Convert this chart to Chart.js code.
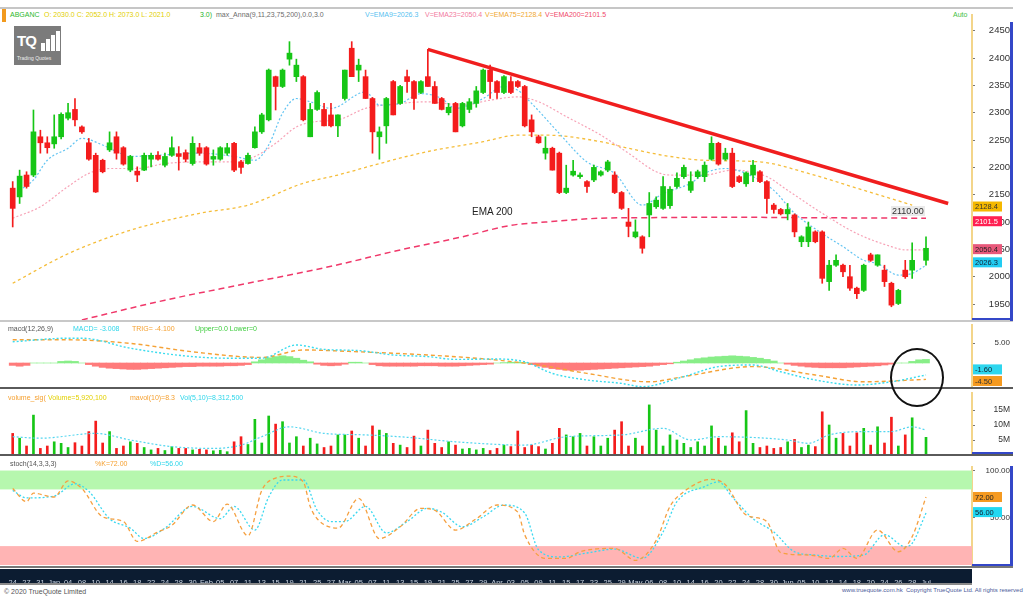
<!DOCTYPE html>
<html lang="en">
<head>
<meta charset="UTF-8">
<title>ABGANC - Daily</title>
<script src="https://cdn.jsdelivr.net/npm/chart.js"></script>
<style>
    body { margin: 0; background: #fff; font-family: "Liberation Sans", Arial, sans-serif; }
    #stage { position: relative; width: 1024px; height: 606px; overflow: hidden; background: #fff; }
    #stage canvas { position: absolute; left: 0; }
    .a { position: absolute; white-space: nowrap; }
    .legend { font-size: 7px; line-height: 8px; }
    .rule { position: absolute; left: 0; width: 1013px; }
    .logo { left: 14px; top: 26px; width: 47px; height: 39px; background: #7b7b7b; }
    .logo .tq { position: absolute; left: 3px; top: 6px; color: #fff; font-weight: bold; font-size: 15px; letter-spacing: -1px; }
    .logo .bar { position: absolute; background: #fff; width: 4px; }
    .logo .sub { position: absolute; left: 3px; top: 29px; color: #eee; font-size: 5px; }
</style>
</head>
<body>
<div id="stage">
    <!-- header -->
    <div class="rule" style="top:7px;height:2px;background:#c6c6c6"></div>
    <div class="a" style="left:2px;top:9px;width:4px;height:13px;background:#f29a1e"></div>
    <div class="a legend" style="top:11px;left:10px;color:#2db82d">ABGANC</div>
    <div class="a legend" style="top:11px;left:44px;color:#e2cf00">O: 2030.0 C: 2052.0 H: 2073.0 L: 2021.0</div>
    <div class="a legend" style="top:11px;left:200px;color:#1fb51f">3.0)</div>
    <div class="a legend" style="top:11px;left:216px;color:#6b6b6b">max_Anna(9,11,23,75,200),0.0,3.0</div>
    <div class="a legend" style="top:11px;left:365px;color:#57bff0">V=EMA9=2026.3</div>
    <div class="a legend" style="top:11px;left:425px;color:#f27aa0">V=EMA23=2050.4</div>
    <div class="a legend" style="top:11px;left:485px;color:#f0a830">V=EMA75=2128.4</div>
    <div class="a legend" style="top:11px;left:545px;color:#f04a6a">V=EMA200=2101.5</div>
    <div class="a legend" style="top:11px;left:953px;color:#44c044">Auto</div>

    <canvas id="priceChart" width="1010" height="306" style="top:14px"></canvas>
    <canvas id="macdChart" width="1010" height="64" style="top:324px"></canvas>
    <canvas id="volChart" width="1010" height="63" style="top:392px"></canvas>
    <div class="a" style="left:0;top:569px;width:972px;height:14px;background:#0c1c31"></div>
    <canvas id="stochChart" width="1010" height="117" style="top:466px"></canvas>

    <!-- logo -->
    <div class="a logo">
        <span class="tq">TQ</span>
        <span class="bar" style="left:27px;top:17px;height:8px"></span>
        <span class="bar" style="left:32px;top:13px;height:12px"></span>
        <span class="bar" style="left:37px;top:9px;height:16px"></span>
        <span class="bar" style="left:42px;top:5px;height:20px"></span>
        <span class="sub">Trading Quotes</span>
    </div>

    <!-- annotations on the price panel -->
    <div class="a" style="left:472px;top:206px;font-size:10px;color:#222">EMA 200</div>
    <div class="a" style="left:891px;top:206px;font-size:9px;color:#333;background:rgba(225,225,225,0.7);padding:0 1px">2110.00</div>

    <!-- sub-panel legends -->
    <div class="a legend" style="top:325px;left:8px;color:#555">macd(12,26,9)</div>
    <div class="a legend" style="top:325px;left:73px;color:#2ed6ea">MACD= -3.008</div>
    <div class="a legend" style="top:325px;left:132px;color:#f5a030">TRIG= -4.100</div>
    <div class="a legend" style="top:325px;left:195px;color:#3ccc3c">Upper=0.0 Lower=0</div>

    <div class="a legend" style="top:394px;left:8px;color:#f5a030">volume_sig(</div>
    <div class="a legend" style="top:394px;left:48px;color:#e2d000">Volume=5,920,100</div>
    <div class="a legend" style="top:394px;left:130px;color:#f5a030">mavol(10)=8.3</div>
    <div class="a legend" style="top:394px;left:180px;color:#2ed6ea">Vol(5,10)=8,312,500</div>

    <div class="a legend" style="top:460px;left:10px;color:#555">stoch(14,3,3,3)</div>
    <div class="a legend" style="top:460px;left:95px;color:#f5a030">%K=72.00</div>
    <div class="a legend" style="top:460px;left:150px;color:#2ed6ea">%D=56.00</div>

    <!-- panel separators and axis frames -->
    <div class="rule" style="top:320px;height:2px;background:#c8c8c8"></div>
    <div class="rule" style="top:387px;height:2px;background:#5a5a5a"></div>
    <div class="rule" style="top:454px;height:2px;background:#5a5a5a"></div>
    <div class="rule" style="top:566px;height:2px;background:#777"></div>
    <div class="rule" style="top:583px;height:2px;background:#8a8a8a;width:972px"></div>
    <div class="a" style="left:1010px;top:22px;width:3px;height:299px;background:#3447c8"></div>
    <div class="a" style="left:972px;top:318px;width:41px;height:2px;background:#3447c8"></div>
    <div class="a" style="left:972px;top:452px;width:41px;height:2px;background:#3447c8"></div>
    <div class="a" style="left:1010px;top:466px;width:3px;height:100px;background:#3447c8"></div>
    <div class="a" style="left:972px;top:564px;width:41px;height:2px;background:#3447c8"></div>

    <!-- circled area -->
    <div class="a" style="left:890px;top:348px;width:50px;height:55px;border:2px solid #111;border-radius:50%"></div>

    <!-- footer -->
    <div class="a" style="left:4px;top:588px;font-size:7px;color:#555">&copy; 2020 TrueQuote Limited</div>
    <div class="a" style="left:842px;top:587px;font-size:6px;color:#4a5a9a">www.truequote.com.hk &nbsp;Copyright TrueQuote Ltd. All rights reserved</div>
</div>

<script>
    // ---- candles (one per session, null = no bar) ----
    const candleOpen = [2162,2146,2186,2186,2256,2245,2243,2256,2290,2306,
        2274,2245,2222,2213,2232,2256,2236,2195,2193,2195,
        2215,2222,2204,2222,2225,2227,2207,2236,2236,2215,
        2215,2226,2244,2210,2207,2236,2265,2287,2366,2348,
        2398,2366,2366,2256,2306,2306,2296,2276,2326,2418,
        2378,2366,2326,2256,2276,2357,2317,2366,2357,2337,
        2366,2348,2326,2300,2317,2276,2306,2317,2337,2378,
        2357,2337,2357,2357,2348,2287,2256,2226,2235,2226,
        2154,2186,2183,2174,2177,2186,2195,2186,2154,2100,
        2073,2073,2113,2128,2125,2130,2165,2183,2158,2183,
        2183,2215,2244,2215,2226,2183,2170,2186,2192,2174,
        2131,2123,2115,2113,2064,2064,2082,2082,1991,2021,
        2021,2000,1979,1975,2040,2021,2012,1988,1951,2012,
        2012,null,2030];
    const candleHigh = [2174,2195,2192,2305,2268,2256,2296,2300,2317,2326,
        2276,2253,2226,2215,2265,2265,2238,2222,2201,2226,
        2226,2229,2226,2256,2238,2232,2256,2244,2238,2232,
        2238,2244,2246,2213,2226,2274,2299,2380,2367,2380,
        2430,2398,2368,2317,2340,2317,2317,2296,2378,2430,
        2398,2378,2328,2274,2328,2359,2350,2378,2359,2359,
        2416,2357,2328,2317,2319,2319,2326,2348,2380,2387,
        2359,2368,2366,2359,2350,2296,2259,2256,2237,2228,
        2204,2213,2190,2176,2204,2194,2213,2192,2156,2125,
        2104,2075,2154,2146,2183,2165,2190,2204,2192,2195,
        2210,2256,2246,2235,2235,2185,2192,2213,2194,2176,
        2134,2125,2134,2115,2075,2100,2084,2084,2030,2040,
        2023,2021,1981,2023,2043,2040,2021,1990,1977,2030,
        2062,null,2073];
    const candleLow = [2091,2134,2162,2183,2226,2226,2235,2252,2287,2276,
        2262,2213,2154,2190,2229,2215,2204,2192,2174,2194,
        2201,2213,2201,2220,2195,2210,2204,2222,2204,2204,
        2213,2222,2192,2189,2206,2235,2262,2285,2305,2346,
        2387,2357,2285,2256,2304,2276,2274,2256,2323,2366,
        2357,2326,2226,2215,2244,2296,2315,2337,2306,2335,
        2348,2317,2305,2296,2265,2274,2300,2310,2335,2326,
        2326,2335,2335,2346,2274,2256,2244,2215,2195,2152,
        2152,2184,2180,2154,2174,2184,2192,2152,2123,2073,
        2071,2043,2073,2125,2123,2125,2162,2180,2154,2180,
        2174,2213,2204,2213,2163,2172,2165,2174,2172,2116,
        2116,2113,2104,2073,2055,2055,2062,1988,1975,2019,
        2000,1975,1960,1973,2028,2019,1982,1945,1949,1997,
        1997,null,2021];
    const candleClose = [2125,2184,2165,2265,2245,2236,2256,2297,2300,2287,
        2265,2215,2155,2192,2245,2226,2206,2220,2186,2222,
        2222,2215,2220,2236,2220,2215,2244,2226,2206,2220,
        2236,2236,2195,2200,2222,2265,2296,2378,2348,2378,
        2409,2387,2287,2306,2337,2276,2276,2296,2378,2366,
        2387,2326,2265,2265,2326,2296,2348,2357,2326,2357,
        2348,2317,2306,2310,2265,2317,2320,2340,2378,2357,
        2337,2366,2337,2348,2276,2265,2245,2235,2195,2154,
        2162,2193,2186,2165,2200,2192,2210,2154,2125,2092,
        2082,2052,2134,2140,2165,2160,2180,2200,2174,2192,
        2204,2244,2206,2226,2165,2174,2190,2204,2174,2143,
        2123,2115,2123,2082,2073,2091,2064,1997,2021,2030,
        2009,1979,1969,2021,2030,2040,1991,1948,1975,2000,
        2030,null,2052];

    // ---- moving averages (read at session index) ----
    const ema9Idx = [1,3,5,8,10,13,15,17,22,27,32,35,37,39,41,43,46,51,53,56,59,62,64,66,68,71,73,75,79,83,87,91,94,98,100,103,107,110,113,117,120,123,125,128,130,132];
    const ema9Val = [2158,2177,2213,2235,2253,2241,2229,2220,2223,2226,2220,2213,2241,2299,2326,2320,2308,2338,2314,2317,2335,2326,2308,2314,2326,2348,2341,2317,2262,2210,2189,2131,2152,2171,2189,2198,2183,2158,2116,2079,2055,2030,2024,2003,2006,2021];
    const ema23Idx = [0,4,8,11,14,18,22,27,32,35,38,41,44,47,51,56,60,65,69,73,76,80,85,89,93,95,100,104,109,112,117,122,127,129,132];
    const ema23Val = [2107,2128,2165,2189,2198,2198,2207,2210,2210,2220,2244,2274,2284,2287,2308,2317,2320,2314,2323,2329,2320,2293,2259,2226,2192,2186,2186,2195,2183,2158,2116,2079,2055,2049,2049];
    const ema75Idx = [0,8,17,27,34,42,47,53,60,68,73,77,85,89,95,100,108,115,122,130];
    const ema75Val = [1988,2042,2085,2116,2131,2171,2186,2207,2229,2247,2259,2259,2247,2235,2220,2213,2210,2189,2162,2131];
    const ema200Idx = [10,22,34,46,56,65,72,77,85,92,102,114,132];
    const ema200Val = [1921,1957,1988,2019,2049,2073,2094,2100,2107,2108,2109,2108,2107];
    const trendIdx = [60, 135.2];
    const trendVal = [2416, 2134];
    const priceTicks = [1950,2000,2050,2100,2150,2200,2250,2300,2350,2400,2450];
    const priceTagValues = [2128.4, 2101.5, 2050.4, 2026.3];

    // ---- MACD ----
    const macdIdx = [0,8,10,17,25,31,36,41,45,50,55,60,64,70,74,78,83,88,91,97,102,107,111,116,122,127,132];
    const macdVal = [5.3,6.2,6.2,3.7,1.75,1.2,1.2,4.5,3.4,3.1,2.0,1.6,0.9,1.0,0.3,-2.6,-4.25,-5.1,-5.9,-3.4,-0.9,-0.5,-2.2,-4.25,-5.5,-4.7,-3.0];
    const signalIdx = [0,8,17,26,36,42,50,60,69,76,83,92,97,107,116,123,132];
    const signalVal = [5.8,5.8,4.9,2.8,1.4,3.25,2.8,2.0,0.9,-0.5,-2.6,-4.7,-3.4,-0.9,-3.0,-4.7,-4.1];
    const macdHist = [-0.6,-0.8,-0.6,0,0,0,0,0.4,0.5,0.4,
        0,-0.4,-0.8,-1.1,-1.3,-1.4,-1.5,-1.6,-1.6,-1.5,
        -1.4,-1.3,-1.2,-1.1,-1.0,-0.9,-0.9,-0.8,-0.8,-0.8,
        -0.8,-0.7,-0.7,-0.6,-0.4,0.3,0.8,1.3,1.6,1.8,
        1.6,1.2,0.7,0.3,-0.3,-0.6,-0.7,-0.6,-0.3,0.2,
        0.2,0,-0.4,-0.7,-0.8,-0.8,-0.8,-0.8,-0.8,-0.7,
        -0.7,-0.7,-0.8,-0.8,-0.8,-0.7,-0.6,-0.5,-0.4,-0.3,
        0,0.1,0.2,0.2,0.1,-0.4,-0.8,-1.1,-1.4,-1.6,
        -1.8,-1.8,-1.8,-1.7,-1.6,-1.5,-1.4,-1.3,-1.2,-1.1,
        -1.0,-0.9,-0.8,-0.6,-0.4,-0.2,0.2,0.5,0.8,1.1,
        1.3,1.5,1.6,1.7,1.8,1.7,1.6,1.4,1.2,0.9,
        0.5,0,-0.3,-0.6,-0.8,-1.0,-1.1,-1.2,-1.2,-1.2,
        -1.2,-1.1,-1.0,-0.9,-0.8,-0.7,-0.5,-0.3,0,0,
        0.4,0.8,0.9];
    const macdTicks = [5];
    const macdTagValues = [-1.6, -4.5];

    // ---- volume (millions) ----
    const volume = [7.2,5.6,3.0,13.3,2.2,3.0,4.4,3.9,2.5,4.1,
        3.0,7.8,11.3,4.0,7.8,2.2,3.0,4.4,3.9,2.5,
        1.7,2.2,1.5,2.8,2.2,2.2,1.7,1.9,1.7,1.4,
        1.6,1.1,4.4,6.1,3.5,11.9,4.0,13.0,10.3,11.1,
        4.0,6.1,3.0,5.6,3.7,2.5,3.0,6.7,6.7,8.0,
        5.6,3.0,9.7,8.3,7.2,3.9,3.3,2.5,6.3,3.0,
        8.3,3.9,2.5,4.4,3.3,2.0,2.2,1.7,2.2,1.5,
        2.2,3.3,2.8,8.0,2.5,3.3,2.8,2.0,3.9,8.9,
        6.7,6.1,7.2,3.0,6.1,3.0,5.6,8.3,11.1,3.0,
        5.6,3.0,16.7,8.3,3.0,6.7,5.0,3.9,2.5,4.4,
        3.0,9.7,5.6,3.0,7.4,4.4,14.8,3.9,2.5,3.0,
        2.2,2.5,4.4,5.2,2.5,3.3,2.8,14.4,10.0,5.6,
        7.2,3.0,7.4,8.9,3.3,9.4,4.0,12.6,3.0,6.7,
        12.4,null,5.9];
    const volMaIdx = [0,4,12,17,23,29,33,36,40,45,51,57,64,74,80,88,94,98,102,112,115,118,123,127,130,132];
    const volMaVal = [6.1,5.6,7.2,5.0,2.8,2.2,3.3,6.1,9.4,7.2,6.7,5.9,4.4,3.3,6.1,6.7,8.9,5.0,6.1,5.0,3.9,6.7,7.8,7.8,9.4,8.3];
    const volTicks = [5, 10, 15];

    // ---- stochastic ----
    const stochKIdx = [0,2,3,6,8,10,13,16,18,21,23,26,29,31,34,36,38,40,42,43,44,47,50,53,56,59,61,64,67,70,73,74,77,80,82,87,90,93,95,97,101,103,106,109,111,115,118,120,122,125,128,130,132];
    const stochK = [81,67,76,72,89,81,51,46,25,35,42,63.5,46,64.5,31,79,92,94,88,62,49,39,70.5,28,40.5,60,58,37,49,63.5,56,32,7,7,14,17.6,5,26,62,77.6,90.7,85,53,46,13,10.6,7,17.6,7,37,14,30,72];
    const stochDIdx = [0,2,6,9,11,14,17,19,22,26,30,32,35,37,39,42,44,46,48,51,54,57,60,62,65,68,71,74,76,79,83,87,91,94,96,100,102,104,107,110,113,116,119,123,126,129,130,132];
    const stochD = [79,71,73,86,78,49,39,28,39,62,49,62,37,72,90,90,58,46,46,62,34,46,60,56,40.5,51,63.5,55,16,8.5,12.7,16.8,7,35,67,83,88,72,49,35,14,10.6,9,10.6,32,19.4,23,55];
    const stochTicks = [50, 100];
    const stochTagValues = [72, 56];

    // ---- date axis ----
    const dateIdx = [0,2,4,6,8,10,12,14,16,18,20,22,24,26,28,30,32,34,36,38,40,42,44,46,48,50,52,54,56,58,60,62,64,66,68,70,72,74,76,78,80,82,84,86,88,90,92,94,96,98,100,102,104,106,108,110,112,114,116,118,120,122,124,126,128,130,132];
    const dateLabels = ['24','27','31','Jan','04','08','10','14','16','18',
        '22','24','28','30','Feb','05','07','11','13','15',
        '19','21','25','27','Mar','05','07','11','13','15',
        '19','21','25','27','29','Apr','03','05','09','11',
        '15','17','23','25','29','May','06','08','10','14',
        '16','20','22','24','28','30','Jun','05','10','12',
        '14','18','20','24','26','28','Jul'];

    // ---- layout constants ----
    const X_STEP = 6.919;   // pixels between sessions
    const X_FIRST = 12.7;   // pixel of the first session
    const PLOT_W = 972;
    const AXIS_W = 38;
    const X_MIN = -X_FIRST / X_STEP;
    const X_MAX = X_MIN + PLOT_W / X_STEP;

    const UP = '#16c616';
    const DOWN = '#f41c1c';
    const FONT = '"Liberation Sans", Arial, sans-serif';
    Chart.defaults.font.family = FONT;

    function pts(idx, vals) {
        return idx.map((x, k) => ({ x: x, y: vals[k] }));
    }

    function isUp(i) {
        return candleClose[i] >= candleOpen[i];
    }

    function lineSet(data, color, dash, width, order) {
        return {
            type: 'line', data: data, borderColor: color, borderDash: dash,
            borderWidth: width || 1.2, pointRadius: 0, fill: false,
            cubicInterpolationMode: 'monotone', order: order || 3
        };
    }

    function yAxis(min, max, ticks, fmt, fontSize) {
        return {
            position: 'right', min: min, max: max,
            afterFit: s => { s.width = AXIS_W; s.paddingTop = 0; s.paddingBottom = 0; },
            afterBuildTicks: s => { s.ticks = ticks.map(v => ({ value: v })); },
            border: { display: true, color: '#f3d58a', width: 2 },
            grid: { drawOnChartArea: false, tickLength: 3, color: '#777' },
            ticks: {
                callback: fmt, color: '#333', padding: 3, crossAlign: 'far',
                font: { size: fontSize || 9, family: FONT }
            }
        };
    }

    function xAxis(show) {
        if (!show) {
            return { type: 'linear', min: X_MIN, max: X_MAX, offset: false, display: false };
        }
        return {
            type: 'linear', min: X_MIN, max: X_MAX, offset: false, position: 'bottom',
            afterFit: s => { s.height = 18; s.paddingLeft = 0; s.paddingRight = 0; },
            afterBuildTicks: s => { s.ticks = dateIdx.map(v => ({ value: v })); },
            grid: { display: false },
            border: { display: false },
            ticks: {
                callback: (v, i) => dateLabels[i], color: '#c9d3e0', padding: 5,
                autoSkip: false, maxRotation: 0, font: { size: 7.5, family: FONT }
            }
        };
    }

    function baseOptions(y, showX) {
        return {
            responsive: false, animation: false,
            layout: { padding: 0 },
            plugins: { legend: { display: false }, tooltip: { enabled: false } },
            scales: { x: xAxis(showX), y: y }
        };
    }

    // value tags drawn in the right axis
    function tagPlugin(values, styles, digits) {
        return {
            id: 'valueTags',
            afterDraw(chart) {
                const { ctx, chartArea, scales } = chart;
                ctx.save();
                ctx.font = '7.5px ' + FONT;
                ctx.textBaseline = 'middle';
                values.forEach((v, k) => {
                    const y = scales.y.getPixelForValue(v);
                    ctx.fillStyle = styles[k][0];
                    ctx.fillRect(chartArea.right + 1, y - 5, 29, 10);
                    ctx.fillStyle = styles[k][1];
                    ctx.fillText(v.toFixed(digits), chartArea.right + 3, y + 0.5);
                });
                ctx.restore();
            }
        };
    }

    // ---- price panel ----
    const wickData = [];
    const bodyData = [];
    candleOpen.forEach((o, i) => {
        if (o === null) return;
        wickData.push({ x: i, y: [candleLow[i], candleHigh[i]] });
        bodyData.push({ x: i, y: [o, candleClose[i]] });
    });
    const candleColor = c => (c.raw && !isUp(c.raw.x)) ? DOWN : UP;

    new Chart(document.getElementById('priceChart'), {
        type: 'bar',
        data: {
            datasets: [
                lineSet(pts(trendIdx, trendVal), '#f01e1e', [], 3.5, 0),
                { data: bodyData, backgroundColor: candleColor, barThickness: 5, minBarLength: 1, grouped: false, order: 1 },
                { data: wickData, backgroundColor: candleColor, barThickness: 1, grouped: false, order: 2 },
                lineSet(pts(ema9Idx, ema9Val), '#62c4f2', [2, 2], 1.2),
                lineSet(pts(ema23Idx, ema23Val), '#f7a2b6', [2, 2], 1.2),
                lineSet(pts(ema75Idx, ema75Val), '#f5bd3a', [3, 3], 1.3),
                lineSet(pts(ema200Idx, ema200Val), '#f0386a', [6, 4], 1.5)
            ]
        },
        options: baseOptions(yAxis(1920.8, 2480.6, priceTicks, v => String(v), 9.5), false),
        plugins: [tagPlugin(priceTagValues,
            [['#f5b800', '#333'], ['#ff2052', '#fff'], ['#e8587a', '#222'], ['#22ccf2', '#123']], 1)]
    });

    // ---- MACD panel ----
    new Chart(document.getElementById('macdChart'), {
        type: 'bar',
        data: {
            datasets: [
                lineSet(pts(macdIdx, macdVal), '#3adcee', [2, 2], 1.4, 1),
                lineSet(pts(signalIdx, signalVal), '#f5a236', [4, 3], 1.4, 1),
                {
                    data: macdHist.map((v, i) => ({ x: i, y: v })),
                    backgroundColor: c => (c.raw && c.raw.y < 0) ? '#ff7b7b' : '#88ee88',
                    barThickness: 7, grouped: false, order: 2
                }
            ]
        },
        options: baseOptions(yAxis(-6.25, 9.75, macdTicks, v => v.toFixed(2), 8), false),
        plugins: [tagPlugin(macdTagValues, [['#2ed6ee', '#123'], ['#f59a20', '#333']], 2)]
    });

    // ---- volume panel ----
    const volData = [];
    volume.forEach((v, i) => { if (v !== null) volData.push({ x: i, y: v }); });

    new Chart(document.getElementById('volChart'), {
        type: 'bar',
        data: {
            datasets: [
                lineSet(pts(volMaIdx, volMaVal), '#52d6f0', [2, 2], 1.2, 1),
                { data: volData, backgroundColor: candleColor, barThickness: 2, grouped: false, order: 2 }
            ]
        },
        options: baseOptions(yAxis(0, 21, volTicks, v => v + 'M', 8.5), false)
    });

    // ---- stochastic panel ----
    const stochBands = {
        id: 'stochBands',
        beforeDatasetsDraw(chart) {
            const { ctx, chartArea, scales } = chart;
            const y = scales.y;
            ctx.save();
            ctx.fillStyle = '#b6f7ae';
            ctx.fillRect(chartArea.left, y.getPixelForValue(100), chartArea.width, y.getPixelForValue(80) - y.getPixelForValue(100));
            ctx.fillStyle = '#ffb4b4';
            ctx.fillRect(chartArea.left, y.getPixelForValue(20), chartArea.width, y.getPixelForValue(0) - y.getPixelForValue(20));
            ctx.restore();
        }
    };

    new Chart(document.getElementById('stochChart'), {
        type: 'line',
        data: {
            datasets: [
                lineSet(pts(stochDIdx, stochD), '#3ad8f0', [2, 2], 1.3, 2),
                lineSet(pts(stochKIdx, stochK), '#f5a040', [4, 3], 1.3, 1)
            ]
        },
        options: baseOptions(yAxis(0, 104.8, stochTicks, v => v.toFixed(2), 8), true),
        plugins: [stochBands, tagPlugin(stochTagValues, [['#f59a20', '#222'], ['#22d8f2', '#123']], 2)]
    });
</script>
</body>
</html>
